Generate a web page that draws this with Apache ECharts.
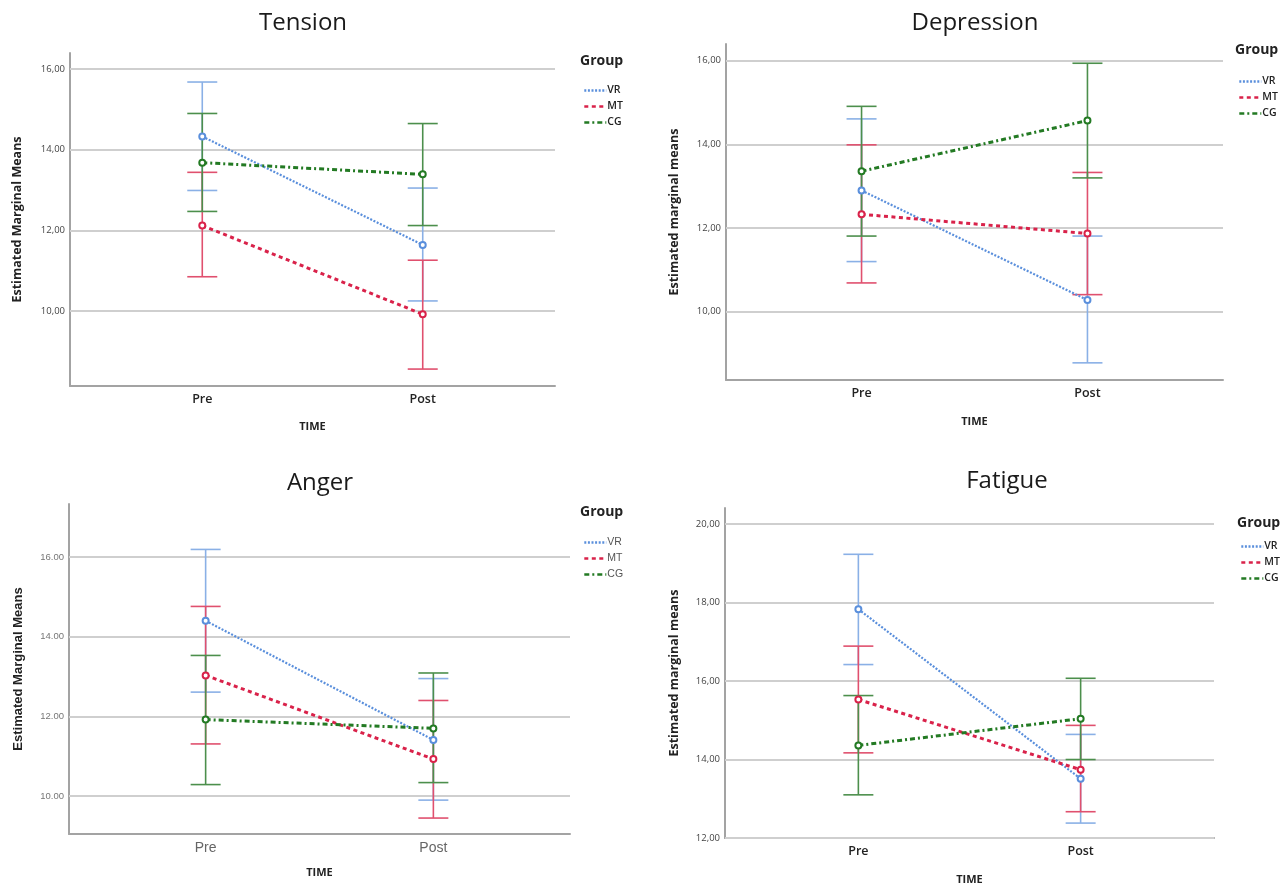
<!DOCTYPE html>
<html><head><meta charset="utf-8">
<script src="https://cdn.jsdelivr.net/npm/echarts@6/dist/echarts.min.js"></script>
<style>html,body{margin:0;padding:0;background:#fff}#c{width:1287px;height:886px}</style>
</head><body><div id="c"></div>
<script>
// ---------- data ----------
const categories = ['Pre', 'Post'];
const groups = ['VR', 'MT', 'CG'];
const panelTitles = ['Tension', 'Depression', 'Anger', 'Fatigue'];

// rows: VR, MT, CG ; columns: Pre, Post
const tensionMean = [[14.33, 11.64], [12.12, 9.92], [13.68, 13.39]];
const tensionLow  = [[12.99, 10.25], [10.85, 8.56], [12.47, 12.12]];
const tensionHigh = [[15.68, 13.05], [13.44, 11.26], [14.90, 14.65]];

const depressionMean = [[12.90, 10.28], [12.33, 11.87], [13.36, 14.57]];
const depressionLow  = [[11.20, 8.78], [10.69, 10.41], [11.81, 13.20]];
const depressionHigh = [[14.61, 11.81], [13.99, 13.33], [14.91, 15.94]];

const angerMean = [[14.40, 11.41], [13.03, 10.93], [11.92, 11.70]];
const angerLow  = [[12.61, 9.90], [11.31, 9.45], [10.29, 10.34]];
const angerHigh = [[16.19, 12.95], [14.76, 12.40], [13.53, 13.09]];

const fatigueMean = [[17.83, 13.51], [15.53, 13.74], [14.36, 15.04]];
const fatigueLow  = [[16.42, 12.38], [14.17, 12.67], [13.10, 14.00]];
const fatigueHigh = [[19.23, 14.64], [16.89, 14.87], [15.63, 16.07]];

const tensionTicks = [10, 12, 14, 16];
const depressionTicks = [10, 12, 14, 16];
const angerTicks = [10, 12, 14, 16];
const fatigueTicks = [12, 14, 16, 18, 20];

const yAxisNames = ['Estimated Marginal Means', 'Estimated marginal means', 'Estimated Marginal Means', 'Estimated marginal means'];
const xAxisName = 'TIME';
const legendTitle = 'Group';

// ---------- layout / style ----------
const panelData = [
  {mean: tensionMean, low: tensionLow, high: tensionHigh, ticks: tensionTicks},
  {mean: depressionMean, low: depressionLow, high: depressionHigh, ticks: depressionTicks},
  {mean: angerMean, low: angerLow, high: angerHigh, ticks: angerTicks},
  {mean: fatigueMean, low: fatigueLow, high: fatigueHigh, ticks: fatigueTicks}
];
const layouts = [
  {left: 70, top: 53, width: 485, height: 333, yMin: 8.14, yMax: 16.4, tx: 303, ty: 23, gx: 580, gy: 61, lx: 578, ly: 80, sep: ',', arial: false, timeGap: 35, yGap: 46},
  {left: 726, top: 44, width: 497, height: 336, yMin: 8.37, yMax: 16.4, tx: 975, ty: 23, gx: 1235, gy: 50, lx: 1233, ly: 71, sep: ',', arial: false, timeGap: 36, yGap: 45},
  {left: 69, top: 504, width: 501, height: 330, yMin: 9.05, yMax: 17.33, tx: 320, ty: 483, gx: 580, gy: 512, lx: 578, ly: 532, sep: '.', arial: true, timeGap: 33, yGap: 44},
  {left: 725, top: 508, width: 489, height: 330, yMin: 12.0, yMax: 20.41, tx: 1007, ty: 481, gx: 1237, gy: 523, lx: 1235, ly: 536, sep: ',', arial: false, timeGap: 36, yGap: 44}
];
const lineColors = ['#5a8fdc', '#d9224a', '#237a23'];
const ciColors = ['#8ab0e6', '#e0506e', '#4c8f4c'];
const lineTypes = [[2, 1.6], [4, 3.5], [5, 3, 2, 3]];
const lineWidths = [2.2, 3, 3];
const SPSS = '"Open Sans", "Noto Sans", sans-serif';
const ARIAL = '"Liberation Sans", Arial, sans-serif';

function errRender(color) {
  return function (params, api) {
    const x = api.value(0);
    const lo = api.coord([x, api.value(1)]);
    const hi = api.coord([x, api.value(2)]);
    const hw = 15;
    const st = {stroke: color, lineWidth: 1.6};
    return {
      type: 'group',
      children: [
        {type: 'line', shape: {x1: lo[0], y1: lo[1], x2: hi[0], y2: hi[1]}, style: st},
        {type: 'line', shape: {x1: hi[0] - hw, y1: hi[1], x2: hi[0] + hw, y2: hi[1]}, style: st},
        {type: 'line', shape: {x1: lo[0] - hw, y1: lo[1], x2: lo[0] + hw, y2: lo[1]}, style: st}
      ]
    };
  };
}

const grid = [], xAxis = [], yAxis = [], series = [], legend = [], graphic = [];
layouts.forEach((L, i) => {
  const D = panelData[i];
  const font = L.arial ? ARIAL : SPSS;
  grid.push({left: L.left, top: L.top, width: L.width, height: L.height});
  xAxis.push({
    type: 'value', gridIndex: i, min: -0.6, max: 1.6,
    axisLine: {show: true, onZero: false, lineStyle: {color: '#a3a3a3', width: 2}},
    axisTick: {show: false}, splitLine: {show: false},
    axisLabel: {
      customValues: [0, 1], formatter: v => categories[Math.round(v)], margin: 7,
      fontFamily: font, fontSize: L.arial ? 14 : 12.5, fontWeight: L.arial ? 'normal' : 600,
      color: L.arial ? '#666' : '#222'
    },
    name: xAxisName, nameLocation: 'middle', nameGap: L.timeGap,
    nameTextStyle: {fontFamily: SPSS, fontSize: 11, fontWeight: 'bold', color: '#222'}
  });
  yAxis.push({
    type: 'value', gridIndex: i, min: L.yMin, max: L.yMax,
    axisLine: {show: true, onZero: false, lineStyle: {color: '#a3a3a3', width: 2}},
    axisTick: {show: false}, splitLine: {show: false},
    axisLabel: {
      customValues: D.ticks, formatter: v => v.toFixed(2).replace('.', L.sep), margin: 5,
      fontFamily: L.arial ? ARIAL : SPSS, fontSize: 9.5, color: L.arial ? '#777' : '#444'
    },
    name: yAxisNames[i], nameLocation: 'middle', nameRotate: 90, nameGap: L.yGap,
    nameTextStyle: {fontFamily: font, fontSize: L.arial ? 13 : 12.5, fontWeight: 'bold', color: '#222'}
  });
  groups.forEach((g, j) => {
    series.push({
      type: 'custom', name: g + ' CI', xAxisIndex: i, yAxisIndex: i, silent: true, z: 2,
      renderItem: errRender(ciColors[j]), encode: {x: 0, y: [1, 2]},
      data: categories.map((c, k) => [k, D.low[j][k], D.high[j][k]])
    });
  });
  groups.forEach((g, j) => {
    const s = {
      type: 'line', name: g, xAxisIndex: i, yAxisIndex: i, z: 3,
      symbol: 'emptyCircle', symbolSize: 6, showSymbol: true,
      lineStyle: {color: lineColors[j], width: lineWidths[j], type: lineTypes[j]},
      itemStyle: {color: lineColors[j], borderWidth: 1.3},
      data: categories.map((c, k) => [k, D.mean[j][k]])
    };
    if (j === 0) {
      s.markLine = {
        silent: true, symbol: 'none', z: 1, animation: false,
        label: {show: false},
        lineStyle: {color: '#cfcfcf', width: 2, type: 'solid'},
        data: D.ticks.map(v => ({yAxis: v}))
      };
    }
    series.push(s);
  });
  legend.push({
    left: L.lx, top: L.ly, orient: 'vertical', itemWidth: 22, itemHeight: 8, itemGap: 5,
    selectedMode: false, data: groups, itemStyle: {opacity: 0},
    lineStyle: {width: 2.6},
    textStyle: {fontFamily: font, fontSize: 10.5, fontWeight: L.arial ? 'normal' : 600, color: L.arial ? '#555' : '#222', padding: [0, 0, 0, -4]}
  });
  graphic.push({
    type: 'text', x: L.tx, y: L.ty,
    style: {text: panelTitles[i], font: '500 24px ' + SPSS, fill: '#1a1a1a', align: 'center', verticalAlign: 'middle'}
  });
  graphic.push({
    type: 'text', x: L.gx, y: L.gy,
    style: {text: legendTitle, font: 'bold 14px ' + SPSS, fill: '#222', align: 'left', verticalAlign: 'middle'}
  });
});

const chart = echarts.init(document.getElementById('c'));
chart.setOption({
  backgroundColor: '#fff', animation: false,
  grid, xAxis, yAxis, series, legend, graphic
});
</script>
</body></html>
